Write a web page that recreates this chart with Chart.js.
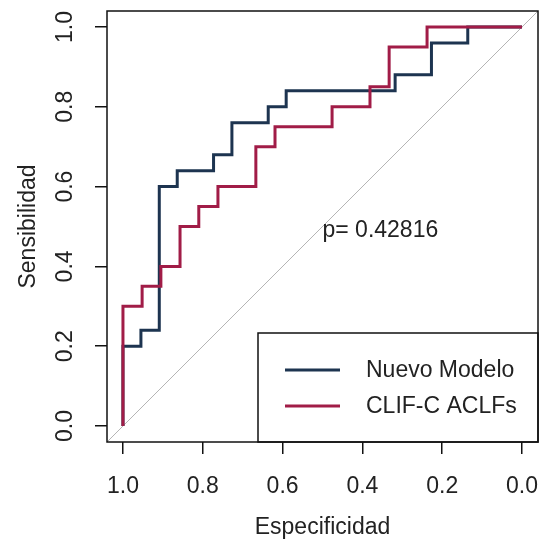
<!DOCTYPE html>
<html>
<head>
<meta charset="utf-8">
<script src="https://cdn.jsdelivr.net/npm/chart.js@4"></script>
<style>
  html, body { margin: 0; padding: 0; background: #fff; overflow: hidden; }
  #wrap { width: 540px; height: 544px; }
</style>
</head>
<body>
<div id="wrap"><canvas id="roc" width="540" height="544"></canvas></div>
<script>
// tick labels
var xTicks = [0, 0.2, 0.4, 0.6, 0.8, 1.0];
var yTicks = [0, 0.2, 0.4, 0.6, 0.8, 1.0];

// Nuevo Modelo: specificity / sensitivity at each step
var nuevoSpec = [1, 1, 0.955, 0.909, 0.864, 0.773, 0.727, 0.636, 0.591, 0.318, 0.227, 0.136, 0];
var nuevoSens = [0, 0.20, 0.24, 0.60, 0.64, 0.68, 0.76, 0.80, 0.84, 0.88, 0.96, 1.00, 1.00];

// CLIF-C ACLFs
var clifSpec = [1, 1, 0.952, 0.905, 0.857, 0.810, 0.762, 0.667, 0.619, 0.476, 0.381, 0.333, 0.238, 0];
var clifSens = [0, 0.30, 0.35, 0.40, 0.50, 0.55, 0.60, 0.70, 0.75, 0.80, 0.85, 0.95, 1.00, 1.00];

// chance line
var diagSpec = [1.04, -0.04];
var diagSens = [-0.04, 1.04];

var pText = 'p= 0.42816';
var pAt = { x: 0.355, y: 0.49 };

var navy = '#1d3450';
var crimson = '#a11c47';
var textColor = '#222';
var fontFam = '"Liberation Sans", Arial, sans-serif';

function toPoints(xs, ys) {
    return xs.map(function (v, i) { return { x: v, y: ys[i] }; });
}

var frameAndLegend = {
    id: 'frameAndLegend',
    afterDatasetsDraw: function (chart) {
        var c = chart.ctx, a = chart.chartArea;
        var sx = chart.scales.x, sy = chart.scales.y;
        c.save();
        // p value
        c.fillStyle = textColor;
        c.font = '23px ' + fontFam;
        c.textAlign = 'center';
        c.textBaseline = 'middle';
        c.fillText(pText, sx.getPixelForValue(pAt.x), sy.getPixelForValue(pAt.y));

        // legend box, bottom right
        var lx = 258, ly = 333;
        c.fillStyle = '#fff';
        c.fillRect(lx, ly, a.right - lx, a.bottom - ly);
        c.strokeStyle = '#111';
        c.lineWidth = 1.5;
        c.strokeRect(lx, ly, a.right - lx, a.bottom - ly);
        var items = [chart.data.datasets[0], chart.data.datasets[1]];
        items.forEach(function (ds, i) {
            var yy = 370 + i * 36;
            c.strokeStyle = ds.borderColor;
            c.lineWidth = 3;
            c.beginPath();
            c.moveTo(285, yy);
            c.lineTo(340, yy);
            c.stroke();
            c.fillStyle = textColor;
            c.textAlign = 'left';
            c.fillText(ds.label, 366, yy + 1);
        });

        // plot frame
        c.strokeStyle = '#111';
        c.lineWidth = 1.5;
        c.strokeRect(a.left, a.top, a.right - a.left, a.bottom - a.top);
        c.restore();
    }
};

var ctx = document.getElementById('roc').getContext('2d');

var rocChart = new Chart(ctx, {
    type: 'line',
    data: {
        datasets: [
            {
                label: 'Nuevo Modelo',
                data: toPoints(nuevoSpec, nuevoSens),
                borderColor: navy,
                borderWidth: 3,
                stepped: 'before',
                pointRadius: 0,
                fill: false,
                order: 2
            },
            {
                label: 'CLIF-C ACLFs',
                data: toPoints(clifSpec, clifSens),
                borderColor: crimson,
                borderWidth: 3,
                stepped: 'before',
                pointRadius: 0,
                fill: false,
                order: 1
            },
            {
                label: 'diag',
                data: toPoints(diagSpec, diagSens),
                borderColor: '#b5b5b5',
                borderWidth: 1,
                pointRadius: 0,
                fill: false,
                order: 3
            }
        ]
    },
    options: {
        responsive: false,
        animation: false,
        devicePixelRatio: 1,
        layout: { padding: { top: 11, right: 2, left: 0, bottom: 0 } },
        plugins: {
            legend: { display: false },
            tooltip: { enabled: false }
        },
        scales: {
            x: {
                type: 'linear',
                reverse: true,
                min: -0.04,
                max: 1.04,
                afterBuildTicks: function (s) { s.ticks = xTicks.map(function (v) { return { value: v }; }); },
                afterFit: function (s) { s.height = 102; s.paddingLeft = 0; s.paddingRight = 0; },
                border: { display: false },
                grid: { drawOnChartArea: false, drawTicks: true, tickLength: 12, color: '#111', lineWidth: 1.5 },
                ticks: {
                    padding: 19,
                    color: textColor,
                    font: { size: 23, family: fontFam },
                    maxRotation: 0,
                    callback: function (v) { return v.toFixed(1); }
                },
                title: {
                    display: true,
                    text: 'Especificidad',
                    color: textColor,
                    font: { size: 23, family: fontFam },
                    padding: { top: 0, bottom: 3 }
                }
            },
            y: {
                type: 'linear',
                min: -0.04,
                max: 1.04,
                afterBuildTicks: function (s) { s.ticks = yTicks.map(function (v) { return { value: v }; }); },
                afterFit: function (s) { s.width = 107; s.paddingTop = 0; s.paddingBottom = 0; },
                border: { display: false },
                grid: { drawOnChartArea: false, drawTicks: true, tickLength: 12, color: '#111', lineWidth: 1.5 },
                ticks: {
                    padding: 13,
                    color: textColor,
                    crossAlign: 'center',
                    minRotation: 90,
                    maxRotation: 90,
                    font: { size: 23, family: fontFam },
                    callback: function (v) { return v.toFixed(1); }
                },
                title: {
                    display: true,
                    text: 'Sensibilidad',
                    color: textColor,
                    font: { size: 23, family: fontFam },
                    padding: { top: 15, bottom: 0 }
                }
            }
        }
    },
    plugins: [frameAndLegend]
});
</script>
</body>
</html>
